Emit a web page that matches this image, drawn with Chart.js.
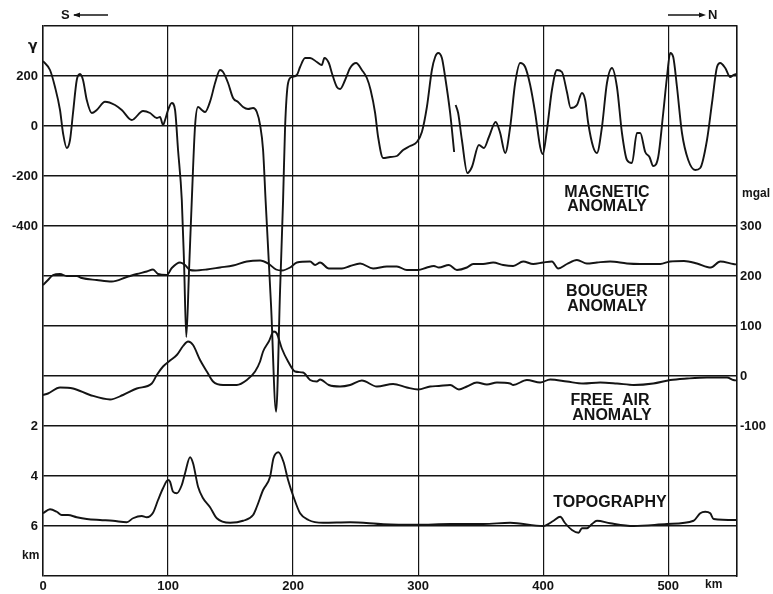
<!DOCTYPE html>
<html>
<head>
<meta charset="utf-8">
<script src="https://cdn.jsdelivr.net/npm/chart.js@4"></script>
<style>
  body { margin: 0; background: #fff; }
  #wrap { width: 773px; height: 594px; }
</style>
</head>
<body>
<div id="wrap"><canvas id="myChart"></canvas></div>
<script>
'use strict';

// Distance along the profile (km) and the four profiles
let magKm = [0, 5.6, 9.6, 13.6, 16, 19, 21.6, 24, 27, 29.6, 32, 35, 39, 43, 49.6, 57.6, 63, 71, 80, 85.6, 91, 93.6, 96, 97.6, 100, 103, 105.6, 108, 111, 112.8, 114.6, 116.8, 119, 121.6, 124, 127, 129.6, 134, 137.6, 141.6, 144, 148, 152, 156, 160, 164, 168, 171, 173.6, 176, 178, 182.4, 186.4, 189.6, 192, 193.6, 196, 199, 203, 205.6, 209.6, 213.6, 219, 223, 225, 228.6, 231, 235, 237.6, 241.6, 245.6, 250.4, 255, 259, 262, 265.6, 268, 272, 277.6, 283, 288, 293.6, 299, 303, 307, 311, 313.6, 316, 319, 321.6, 325.6, 328.8, 329.4, 330, 332, 335, 339.4, 343, 348.6, 352.6, 356.6, 362, 365.6, 369.6, 373.6, 377.6, 381.6, 385.6, 389.6, 393.6, 397.6, 399.7, 403, 407, 411, 415, 419, 422, 427, 431, 433.6, 436, 440, 443, 447, 451, 455, 459, 463, 467, 471, 475, 477.6, 481.6, 485, 488, 492, 496, 499, 501.6, 504, 507, 511, 516, 521.6, 525.6, 531, 535, 539, 541.6, 545.6, 549.6, 552, 555];
let magGamma = [260, 224, 156, 64, -28, -88, -56, 52, 184, 208, 184, 104, 52, 64, 97, 84, 64, 24, 60, 52, 32, 36, 4, 24, 64, 92, 64, -96, -296, -548, -844, -576, -296, 0, 76, 64, 56, 104, 172, 224, 216, 172, 112, 96, 76, 68, 72, 56, 4, -96, -296, -720, -1143, -656, -296, -4, 172, 196, 204, 236, 272, 272, 256, 244, 272, 252, 212, 156, 148, 184, 232, 252, 224, 192, 144, 52, -44, -128, -124, -120, -96, -80, -64, -24, 76, 224, 276, 292, 272, 196, 52, -104, null, 84, 52, -56, -188, -164, -76, -88, -44, 16, -28, -108, -4, 172, 252, 236, 164, 52, -84, -112, -16, 144, 224, 216, 136, 72, 84, 132, 104, 12, -84, -108, -4, 172, 232, 156, -28, -136, -148, -28, -28, -104, -124, -160, -124, 52, 196, 292, 276, 156, -28, -136, -176, -168, -56, 92, 236, 252, 232, 196, 204, 208];

let bouguerKm = [0, 4, 8, 13.6, 19, 27, 31, 43, 55, 67, 75, 83, 88, 92, 99, 103, 109.6, 113.6, 117.6, 121.6, 131, 141.6, 152, 163, 173.6, 180.6, 186.4, 191, 197.6, 203, 213.6, 217.6, 221.6, 228.6, 239, 245.6, 253.6, 264, 275, 283, 291, 300, 307, 312.6, 316.6, 324.6, 331, 339, 344, 352, 360, 368, 376, 384, 392, 400, 407, 412, 419, 427, 435, 443, 453.6, 467, 477.6, 493.6, 501.6, 512.6, 523, 534, 541.6, 552, 555];
let bouguerMgal = [182, 192, 202, 204, 200, 200, 196, 192, 189, 198, 204, 209, 213, 204, 202, 216, 227, 222, 212, 211, 213, 217, 221, 229, 231, 224, 213, 211, 217, 227, 229, 222, 227, 215, 215, 220, 225, 215, 219, 219, 212, 212, 217, 220, 217, 222, 212, 217, 224, 224, 227, 222, 220, 229, 224, 227, 229, 215, 224, 232, 225, 227, 229, 225, 224, 224, 229, 230, 225, 217, 229, 224, 223];

let freeAirKm = [0, 4, 13.6, 24, 37.6, 53.6, 64, 75, 87, 91, 96, 101.6, 107, 112, 116, 120, 125.6, 131, 136, 144, 155, 163, 169.6, 173.6, 176, 180.6, 184.6, 187, 191, 196, 201.6, 208, 213.6, 219, 221.6, 228.6, 237.6, 245.6, 255, 267, 280, 291, 300, 309.6, 316.6, 325.6, 332.6, 339, 347, 355, 363, 373.6, 376, 387, 397.6, 405.6, 419, 432, 445.6, 459, 472.6, 488, 501.6, 515, 531, 547, 552, 555];
let freeAirMgal = [-38, -35, -23, -25, -38, -47, -38, -25, -15, 2, 19, 31, 42, 60, 69, 62, 32, 9, -11, -18, -18, -8, 9, 29, 49, 69, 89, 85, 55, 29, 9, 7, -8, -11, -7, -18, -21, -18, -9, -21, -16, -23, -27, -21, -20, -18, -27, -21, -13, -17, -13, -15, -18, -8, -13, -7, -11, -15, -13, -15, -18, -15, -8, -5, -3, -3, -8, -9];

let topoKm = [0, 5.6, 11, 15, 20, 27, 35, 45.6, 56, 67, 72, 79, 83, 88, 92, 96, 100, 101.6, 104, 107, 111, 113.6, 117.6, 120, 124, 128, 133.6, 139, 149.6, 160, 168, 171, 176, 181.6, 184.3, 188.3, 192.3, 196, 200.3, 205.6, 212.3, 224, 245.6, 272.3, 299, 325.6, 352.3, 373.6, 400, 408.3, 413.6, 417.6, 423, 428.3, 431, 435, 439, 443, 453.6, 472.3, 499, 520.3, 525.6, 529.6, 533.6, 536.3, 555];
let topoDepth = [5.49, 5.33, 5.43, 5.56, 5.56, 5.65, 5.72, 5.76, 5.79, 5.85, 5.69, 5.6, 5.65, 5.47, 4.96, 4.49, 4.16, 4.23, 4.63, 4.69, 4.36, 3.89, 3.25, 3.49, 4.43, 4.89, 5.25, 5.69, 5.87, 5.79, 5.56, 5.23, 4.56, 4.03, 3.29, 3.05, 3.43, 4.16, 4.83, 5.49, 5.76, 5.87, 5.85, 5.93, 5.95, 5.92, 5.92, 5.87, 6.0, 5.79, 5.63, 5.89, 6.16, 6.27, 6.09, 6.09, 5.92, 5.79, 5.89, 6.0, 5.92, 5.79, 5.49, 5.43, 5.49, 5.72, 5.76];

// Tick labels
let magneticTicks = [200, 0, -200, -400];
let depthTicks = [2, 4, 6];
let gravityTicks = [300, 200, 100, 0, -100];

// Axis ranges (one grid square = 100 km x 200 gamma = 100 mgal = 2 km)
let magMin = -1800, magMax = 400;
let topoMin = -14, topoMax = 8;

function toPoints(xs, ys) {
  let pts = [];
  for (let i = 0; i < xs.length; i++) {
    pts.push({x: xs[i], y: ys[i]});
  }
  return pts;
}

function magLabel(value) {
  if (magneticTicks.includes(value)) return String(value);
  let depth = topoMin + (magMax - value) / (magMax - magMin) * (topoMax - topoMin);
  let d = Math.round(depth * 100) / 100;
  if (depthTicks.includes(d)) return String(d);
  return '';
}

const INK = '#141414';
const tickFont = {family: 'Liberation Sans', size: 13, weight: 'bold'};

let textPlugin = {
  id: 'profileText',
  afterDraw(chart) {
    let ctx = chart.ctx;
    ctx.save();
    ctx.fillStyle = INK;
    ctx.strokeStyle = INK;
    ctx.textBaseline = 'middle';

    // direction arrows
    ctx.font = 'bold 13px Liberation Sans';
    ctx.textAlign = 'left';
    ctx.fillText('S', 61, 15);
    ctx.fillText('N', 708, 15);
    ctx.lineWidth = 1.3;
    ctx.beginPath();
    ctx.moveTo(74, 15); ctx.lineTo(108, 15);
    ctx.moveTo(668, 15); ctx.lineTo(702, 15);
    ctx.stroke();
    ctx.beginPath();
    ctx.moveTo(73, 15); ctx.lineTo(80, 12.5); ctx.lineTo(80, 17.5); ctx.closePath();
    ctx.moveTo(706, 15); ctx.lineTo(699, 12.5); ctx.lineTo(699, 17.5); ctx.closePath();
    ctx.fill();

    // unit labels
    ctx.font = 'bold 14px DejaVu Sans';
    ctx.fillText('\u03b3', 28, 46);
    ctx.font = 'bold 12px Liberation Sans';
    ctx.fillText('km', 22, 556);
    ctx.fillText('km', 705, 585);
    ctx.fillText('mgal', 742, 194);

    // profile names
    ctx.font = 'bold 16px Liberation Sans';
    ctx.textAlign = 'center';
    ctx.fillText('MAGNETIC', 607, 193);
    ctx.fillText('ANOMALY', 607, 207);
    ctx.fillText('BOUGUER', 607, 292);
    ctx.fillText('ANOMALY', 607, 307);
    ctx.fillText('FREE  AIR', 610, 401);
    ctx.fillText('ANOMALY', 612, 416);
    ctx.fillText('TOPOGRAPHY', 610, 503);
    ctx.restore();
  }
};

function lineSet(label, data, axis) {
  return {
    label: label,
    data: data,
    yAxisID: axis,
    borderColor: INK,
    borderWidth: 1.9,
    pointRadius: 0,
    fill: false,
    spanGaps: false,
    cubicInterpolationMode: 'monotone'
  };
}

let ctx = document.getElementById('myChart').getContext('2d');
new Chart(ctx, {
  type: 'line',
  data: {
    datasets: [
      lineSet('Magnetic anomaly', toPoints(magKm, magGamma), 'yMag'),
      lineSet('Bouguer anomaly', toPoints(bouguerKm, bouguerMgal), 'yGrav'),
      lineSet('Free air anomaly', toPoints(freeAirKm, freeAirMgal), 'yGrav'),
      lineSet('Topography', toPoints(topoKm, topoDepth), 'yTopo')
    ]
  },
  options: {
    responsive: true,
    maintainAspectRatio: false,
    animation: false,
    layout: {padding: {top: 26, left: 0, right: 0, bottom: 0}},
    plugins: {legend: {display: false}, tooltip: {enabled: false}},
    scales: {
      x: {
        type: 'linear',
        min: 0,
        max: 555,
        border: {display: false},
        grid: {color: INK, lineWidth: 1.2, drawTicks: false},
        ticks: {
          stepSize: 100,
          autoSkip: false,
          maxRotation: 0,
          padding: 3,
          color: INK,
          font: tickFont,
          callback: (v) => (v % 100 === 0 ? String(v) : '')
        },
        afterFit: (scale) => { scale.height = 18; }
      },
      yMag: {
        type: 'linear',
        position: 'left',
        min: magMin,
        max: magMax,
        border: {display: true, color: INK, width: 1.5},
        grid: {color: INK, lineWidth: 1.5, drawTicks: false},
        ticks: {
          stepSize: 200,
          autoSkip: false,
          padding: 5,
          color: INK,
          font: tickFont,
          callback: (v) => magLabel(v)
        },
        afterFit: (scale) => { scale.width = 43; }
      },
      yGrav: {
        type: 'linear',
        position: 'right',
        min: -400,
        max: 700,
        border: {display: true, color: INK, width: 1.5},
        grid: {display: false, drawTicks: false},
        ticks: {
          stepSize: 100,
          autoSkip: false,
          padding: 3,
          color: INK,
          font: tickFont,
          callback: (v) => (gravityTicks.includes(v) ? String(v) : '')
        },
        afterFit: (scale) => { scale.width = 36; }
      },
      yTopo: {
        type: 'linear',
        display: false,
        reverse: true,
        min: topoMin,
        max: topoMax
      }
    }
  },
  plugins: [textPlugin]
});
</script>
</body>
</html>
